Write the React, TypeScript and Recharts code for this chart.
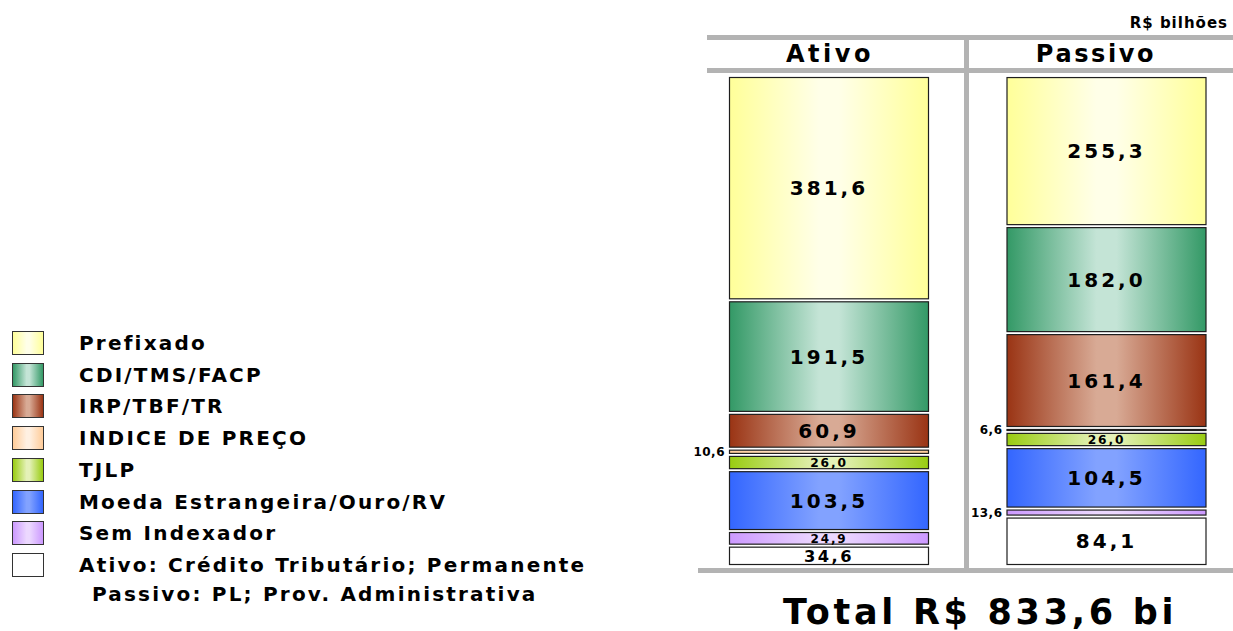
import { Bar, BarChart, LabelList, XAxis, YAxis } from "recharts";

// R$ bilhões, top of the stack first
const sides = ["Ativo", "Passivo"];
const seriesNames = [
  "Prefixado",
  "CDI/TMS/FACP",
  "IRP/TBF/TR",
  "INDICE DE PREÇO",
  "TJLP",
  "Moeda Estrangeira/Ouro/RV",
  "Sem Indexador",
  "Ativo: Crédito Tributário; Permanente",
];
const ativo = [381.6, 191.5, 60.9, 10.6, 26.0, 103.5, 24.9, 34.6];
const passivo = [255.3, 182.0, 161.4, 6.6, 26.0, 104.5, 13.6, 84.1];
const legendNote = "Passivo: PL; Prov. Administrativa";
const total = 833.6;
const unitLabel = "R$ bilhões";

// edge colour, centre colour of each horizontal gradient
const palette: [string, string][] = [
  ["#FFFF99", "#FFFFE8"],
  ["#339966", "#C4E4D6"],
  ["#9A3414", "#D8AA95"],
  ["#FFCC99", "#FFF0E2"],
  ["#99CC11", "#E4F1B8"],
  ["#3366FF", "#82A2FF"],
  ["#CC99FF", "#ECD8FF"],
  ["#FFFFFF", "#FFFFFF"],
];

const FONT = "'DejaVu Sans', Verdana, sans-serif";
const GRAY = "#B3B3B3";

const rows = sides.map((side, i) => {
  const vals = i === 0 ? ativo : passivo;
  const row: Record<string, string | number> = { side };
  vals.forEach((v, k) => (row[`s${k}`] = v));
  return row;
});

const fmt = (v: number) => v.toFixed(1).replace(".", ",");

function Box(props: any) {
  const { x, y, width, height, fill } = props;
  const h = Math.max(height - 3, 1);
  return <rect x={x + 0.5} y={y + 1.5} width={width - 1} height={h} fill={fill} stroke="#1e1e1e" strokeWidth={1.2} />;
}

function ValueLabel(props: any) {
  const { x, y, width, height, value } = props;
  const text = fmt(Number(value));
  // slices too thin to hold their number get it just left of the bar
  if (height < 12) {
    return (
      <text
        x={x - 4}
        y={y + height / 2}
        dy="0.36em"
        textAnchor="end"
        fontFamily={FONT}
        fontWeight="bold"
        fontSize={12}
        letterSpacing={0.5}
        fill="#000"
      >
        {text}
      </text>
    );
  }
  const fs = Math.max(12, Math.min(20, height * 0.8));
  return (
    <text
      x={x + width / 2}
      y={y + height / 2}
      dy="0.36em"
      textAnchor="middle"
      fontFamily={FONT}
      fontWeight="bold"
      fontSize={fs}
      letterSpacing={fs * 0.15}
      fill="#000"
    >
      {text}
    </text>
  );
}

function cssGradient([edge, mid]: [string, string]) {
  return `linear-gradient(to right, ${edge} 0%, ${mid} 45%, ${mid} 55%, ${edge} 100%)`;
}

const legendText = {
  position: "absolute" as const,
  height: 24,
  lineHeight: "24px",
  whiteSpace: "nowrap" as const,
  fontFamily: FONT,
  fontWeight: "bold" as const,
  fontSize: 20,
  letterSpacing: 2.2,
};

function LegendBlock() {
  const pitch = 31.7;
  return (
    <div style={{ position: "absolute", left: 0, top: 0 }}>
      {seriesNames.map((name, i) => {
        const cy = 343 + i * pitch;
        return (
          <div key={name}>
            <div
              style={{
                position: "absolute",
                left: 12,
                top: cy - 12,
                width: 30,
                height: 22,
                background: cssGradient(palette[i]),
                border: "1.5px solid #333",
              }}
            />
            <div style={{ ...legendText, left: 79, top: cy - 12 }}>{name}</div>
          </div>
        );
      })}
      <div style={{ ...legendText, left: 92, top: 582 }}>{legendNote}</div>
    </div>
  );
}

const textStyle = {
  position: "absolute" as const,
  fontFamily: FONT,
  fontWeight: "bold" as const,
  whiteSpace: "nowrap" as const,
  color: "#000",
};

export default function App() {
  const order = seriesNames.map((_, i) => i).reverse(); // bottom of the stack first
  return (
    <div style={{ position: "absolute", left: 0, top: 0, width: 1233, height: 631, overflow: "hidden", background: "#fff" }}>
      {/* header rules and column divider */}
      <div style={{ position: "absolute", left: 707, top: 35, width: 526, height: 5, background: GRAY }} />
      <div style={{ position: "absolute", left: 707, top: 68, width: 526, height: 5, background: GRAY }} />
      <div style={{ position: "absolute", left: 964, top: 35, width: 5, height: 537, background: GRAY }} />
      <div style={{ position: "absolute", left: 698, top: 568, width: 535, height: 5, background: GRAY }} />

      <div style={{ ...textStyle, right: 5, top: 14, fontSize: 15, letterSpacing: 1 }}>{unitLabel}</div>
      {sides.map((s, i) => (
        <div
          key={s}
          style={{
            ...textStyle,
            left: i === 0 ? 730 : 996,
            width: 200,
            top: 40,
            textAlign: "center",
            fontSize: 24,
            letterSpacing: i === 0 ? 3.5 : 2.6,
          }}
        >
          {s}
        </div>
      ))}

      <BarChart
        width={1250}
        height={631}
        data={rows}
        margin={{ top: 76, right: 5, bottom: 65, left: 690 }}
        barSize={200}
        style={{ position: "absolute", left: 0, top: 0 }}
      >
        <defs>
          {palette.map(([edge, mid], i) => (
            <linearGradient key={i} id={`g${i}`} x1="0" y1="0" x2="1" y2="0">
              <stop offset="0%" stopColor={edge} />
              <stop offset="45%" stopColor={mid} />
              <stop offset="55%" stopColor={mid} />
              <stop offset="100%" stopColor={edge} />
            </linearGradient>
          ))}
        </defs>
        <XAxis dataKey="side" hide />
        <YAxis hide domain={[0, total]} />
        {order.map((i) => (
          <Bar
            key={i}
            dataKey={`s${i}`}
            name={seriesNames[i]}
            stackId="a"
            fill={`url(#g${i})`}
            shape={<Box />}
            isAnimationActive={false}
          >
            <LabelList dataKey={`s${i}`} content={<ValueLabel />} />
          </Bar>
        ))}
      </BarChart>

      <LegendBlock />

      <div style={{ ...textStyle, left: 700, width: 560, top: 592, textAlign: "center", fontSize: 35, letterSpacing: 3.7 }}>
        Total {unitLabel.split(" ")[0]} {fmt(total)} bi
      </div>
    </div>
  );
}
